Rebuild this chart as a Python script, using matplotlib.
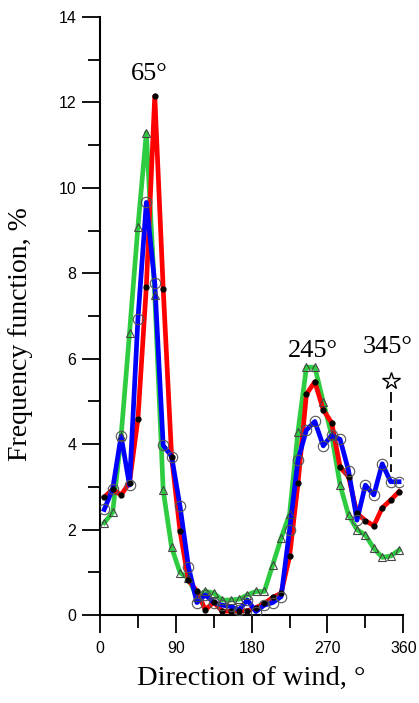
import numpy as np
import matplotlib.pyplot as plt

# wind direction bins (centres), degrees
direction = [5, 15, 25, 35, 45, 55, 65, 75, 85, 95, 105, 115, 125, 135, 145, 155, 165, 175,
             185, 195, 205, 215, 225, 235, 245, 255, 265, 275, 285, 295, 305, 315, 325, 335, 345, 355]

# frequency function, %
freq_red = [2.76, 2.94, 2.81, 3.10, 4.59, 7.69, 12.15, 7.64, 3.70, 1.96, 0.81, 0.56, 0.12, 0.30,
            0.09, 0.09, 0.09, 0.10, 0.17, 0.27, 0.41, 0.51, 1.37, 3.08, 5.17, 5.46, 4.80, 4.50,
            3.46, 3.24, 2.38, 2.21, 2.09, 2.51, 2.69, 2.89]
freq_blue = [2.47, 2.95, 4.19, 3.04, 6.93, 9.66, 7.77, 3.97, 3.71, 2.54, 1.13, 0.29, 0.47, 0.29,
             0.23, 0.20, 0.12, 0.35, 0.08, 0.23, 0.29, 0.43, 1.99, 3.63, 4.33, 4.53, 3.96, 4.21,
             4.11, 3.38, 2.22, 3.04, 2.81, 3.54, 3.12, 3.12]
freq_green = [2.16, 2.40, 4.18, 6.60, 9.09, 11.29, 7.49, 2.92, 1.58, 0.99, 0.86, 0.41, 0.56, 0.51,
              0.35, 0.35, 0.37, 0.47, 0.55, 0.55, 1.17, 1.80, 2.36, 4.29, 5.80, 5.80, 4.99, 4.21,
              3.04, 2.34, 2.00, 1.87, 1.56, 1.35, 1.38, 1.52]

# marked directions
peak_labels = ["65°", "245°", "345°"]
star_dir, star_val, star_low = 345, 5.48, 3.35

fig = plt.figure(figsize=(4.19, 7.03), dpi=100)
ax = fig.add_axes([0.2387, 0.1252, 0.7238, 0.8506])

ax.plot(direction, freq_green, color="#2ecc40", lw=3.4, zorder=2)
ax.plot(direction, freq_red, color="#ff0000", lw=3.4, zorder=3)
ax.plot(direction, freq_blue, color="#0000ff", lw=3.4, zorder=4)

# markers on top of the lines
ax.plot(direction, freq_green, ls="none", marker="^", ms=6, mfc="none", mec="#444444", mew=0.8, zorder=5)
ax.plot(direction, freq_red, ls="none", marker="o", ms=3.5, mfc="black", mec="black", zorder=5)
ax.plot(direction, freq_blue, ls="none", marker="o", ms=7.5, mfc="none", mec="#555555", mew=0.8, zorder=5)

# 345° star with dashed line
ax.plot([star_dir, star_dir], [star_val - 0.25, star_low], color="black", lw=1.3,
        ls=(0, (6, 4)), zorder=6)
ax.plot([star_dir], [star_val], ls="none", marker="*", ms=13, mfc="white", mec="black",
        mew=1.0, zorder=7)

label_pos = [(59, 12.4), (253, 5.92), (341, 6.02)]
for (lx, ly), txt in zip(label_pos, peak_labels):
    ax.text(lx, ly, txt, family="Liberation Serif", fontsize=19, ha="center", va="bottom")

ax.set_xlim(0, 360)
ax.set_ylim(0, 14)
ax.set_xticks(np.arange(0, 361, 90))
ax.set_xticks(np.arange(0, 361, 45), minor=True)
ax.set_yticks(np.arange(0, 15, 2))
ax.set_yticks(np.arange(0, 15, 1), minor=True)

for lab in ax.get_xticklabels() + ax.get_yticklabels():
    lab.set_family("Liberation Sans")
    lab.set_fontsize(11.5)

ax.tick_params(which="major", direction="out", length=13, width=1.3, pad=4)
ax.tick_params(which="minor", direction="out", length=9, width=1.3)
ax.tick_params(axis="x", which="major", pad=6)

for side in ["top", "right"]:
    ax.spines[side].set_visible(False)
for side in ["left", "bottom"]:
    ax.spines[side].set_linewidth(1.5)

ax.set_xlabel("Direction of wind, °", family="Liberation Serif", fontsize=20.5, labelpad=7)
ax.set_ylabel("Frequency function, %", family="Liberation Serif", fontsize=20)
ax.yaxis.set_label_coords(-0.222, 0.47)

fig.savefig("out.png", dpi=100)
